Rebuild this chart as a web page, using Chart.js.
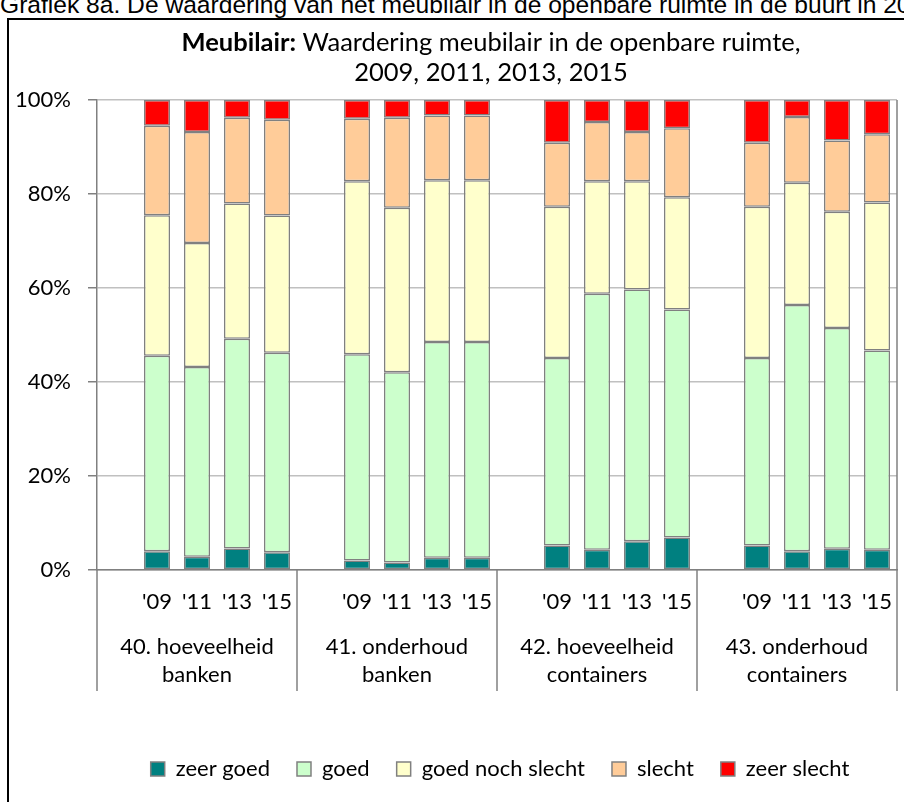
<!DOCTYPE html>
<html>
<head>
<meta charset="utf-8">
<script src="https://cdn.jsdelivr.net/npm/chart.js@4.4.1/dist/chart.umd.min.js"></script>
<style>
  html, body { margin: 0; padding: 0; background: #fff; overflow: hidden; }
  #page { position: relative; width: 904px; height: 802px; overflow: hidden; }
  #caption { position: absolute; left: 0; top: -8px; font: 24.6px/26px "Liberation Sans", Arial, sans-serif; white-space: nowrap; color: #000; }
  #frame { position: absolute; left: 7px; top: 18px; width: 1000px; height: 800px; border-left: 2px solid #000; border-top: 2px solid #000; }
  #chartBox { position: absolute; left: 0; top: 0; width: 1000px; height: 802px; }
</style>
</head>
<body>
<div id="page">
  <div id="caption">Grafiek 8a. De waardering van het meubilair in de openbare ruimte in de buurt in 2009, 2011, 2013 en 2015</div>
  <div id="frame"></div>
  <div id="chartBox"><canvas id="meubilairChart" width="1000" height="802"></canvas></div>
</div>
<script>
// Meubilair: waardering per onderwerp, 2009-2015 (100% gestapeld)

const groups = [
    ['40. hoeveelheid', 'banken'],
    ['41. onderhoud', 'banken'],
    ['42. hoeveelheid', 'containers'],
    ['43. onderhoud', 'containers']
];
const years = ["'09", "'11", "'13", "'15"];
const yTicks = [0, 20, 40, 60, 80, 100];

// values per group, in order '09 '11 '13 '15
const zeerGoed   = [4.0, 2.8, 4.6, 3.8,   2.0, 1.6, 2.6, 2.6,   5.2, 4.3, 6.1, 6.9,   5.2, 4.0, 4.5, 4.3];
const goed       = [41.6, 40.4, 44.6, 42.4,   43.9, 40.5, 45.9, 45.9,   39.9, 54.5, 53.6, 48.5,   39.9, 52.4, 47.0, 42.4];
const goedNoch   = [29.9, 26.4, 28.8, 29.2,   36.8, 35.0, 34.4, 34.4,   32.2, 23.9, 23.0, 23.9,   32.2, 26.0, 24.7, 31.5];
const slecht     = [19.0, 23.6, 18.2, 20.4,   13.3, 19.1, 13.8, 13.8,   13.6, 12.6, 10.5, 14.7,   13.6, 14.0, 15.2, 14.5];
const zeerSlecht = [5.5, 6.8, 3.8, 4.2,   4.0, 3.8, 3.3, 3.3,   9.1, 4.7, 6.8, 6.0,   9.1, 3.6, 8.6, 7.3];

const seriesNames = ['zeer goed', 'goed', 'goed noch slecht', 'slecht', 'zeer slecht'];
const seriesValues = [zeerGoed, goed, goedNoch, slecht, zeerSlecht];
const seriesColors = ['#008080', '#CCFFCC', '#FFFFCC', '#FFCC99', '#FF0000'];

const FONT = 'Lato, "Open Sans", sans-serif';
const slotsPerGroup = years.length + 1; // one empty slot in front of each group

// Category labels: empty slot + years for each group
const labels = groups.flatMap(() => [''].concat(years));

// Spread the values over the slots, leaving the empty slot null
function toSlots(values) {
    const out = [];
    groups.forEach((g, gi) => {
        out.push(null);
        for (let i = 0; i < years.length; i++) {
            out.push(values[gi * years.length + i]);
        }
    });
    return out;
}

// Title with bold "Meubilair:" in front
const mixedTitle = {
    id: 'mixedTitle',
    afterDraw(chart) {
        const ctx = chart.ctx;
        const cx = chart.width / 2 - 9;
        ctx.save();
        ctx.fillStyle = '#000';
        ctx.textBaseline = 'middle';
        const bold = 'Meubilair:';
        const rest = ' Waardering meubilair in de openbare ruimte,';
        ctx.font = 'bold 25.5px ' + FONT;
        const wBold = ctx.measureText(bold).width;
        ctx.font = '25.5px ' + FONT;
        const wRest = ctx.measureText(rest).width;
        const x0 = cx - (wBold + wRest) / 2;
        ctx.textAlign = 'left';
        ctx.font = 'bold 25.5px ' + FONT;
        ctx.fillText(bold, x0, 43);
        ctx.font = '25.5px ' + FONT;
        ctx.fillText(rest, x0 + wBold, 43);
        ctx.textAlign = 'center';
        ctx.fillText('2009, 2011, 2013, 2015', cx, 73);
        ctx.restore();
    }
};

// Group dividers and group names under the year labels
const groupAxis = {
    id: 'groupAxis',
    afterDraw(chart) {
        const ctx = chart.ctx;
        const xs = chart.scales.x;
        const area = chart.chartArea;
        ctx.save();
        ctx.strokeStyle = '#808080';
        ctx.lineWidth = 1.5;
        // right edge of plot area
        ctx.beginPath();
        ctx.moveTo(area.right, area.top);
        ctx.lineTo(area.right, area.bottom);
        ctx.stroke();
        for (let g = 0; g <= groups.length; g++) {
            const x = xs.getPixelForValue(g * slotsPerGroup - 0.5);
            ctx.beginPath();
            ctx.moveTo(x, area.bottom);
            ctx.lineTo(x, area.bottom + 121);
            ctx.stroke();
        }
        ctx.fillStyle = '#000';
        ctx.font = '22px ' + FONT;
        ctx.textAlign = 'center';
        ctx.textBaseline = 'middle';
        groups.forEach((lines, g) => {
            const x = xs.getPixelForValue(g * slotsPerGroup + (slotsPerGroup - 1) / 2);
            lines.forEach((line, i) => {
                ctx.fillText(line, x, area.bottom + 77 + i * 28);
            });
        });
        ctx.restore();
    }
};

const datasets = seriesNames.map((name, i) => ({
    label: name,
    data: toSlots(seriesValues[i]),
    backgroundColor: seriesColors[i],
    borderColor: '#808080',
    borderWidth: 1.5,
    borderSkipped: false,
    barPercentage: 0.65,
    categoryPercentage: 1.0
}));

const ctx = document.getElementById('meubilairChart').getContext('2d');
const chart = new Chart(ctx, {
    type: 'bar',
    data: { labels: labels, datasets: datasets },
    options: {
        responsive: false,
        animation: false,
        layout: { padding: { top: 100, left: 0, right: 0, bottom: 12 } },
        plugins: {
            title: { display: false },
            tooltip: { enabled: false },
            legend: {
                position: 'bottom',
                labels: {
                    boxWidth: 14,
                    boxHeight: 14,
                    padding: 27,
                    color: '#000',
                    font: { family: FONT, size: 22 }
                }
            }
        },
        scales: {
            x: {
                stacked: true,
                grid: { display: false, drawTicks: false },
                border: { display: true, color: '#808080', width: 1.5 },
                ticks: {
                    color: '#000',
                    font: { family: FONT, size: 22 },
                    padding: 19,
                    autoSkip: false,
                    maxRotation: 0
                },
                afterFit(scale) { scale.height = 161; }
            },
            y: {
                stacked: true,
                min: 0,
                max: 100,
                afterBuildTicks(scale) { scale.ticks = yTicks.map(v => ({ value: v })); },
                grid: { color: '#C0C0C0', lineWidth: 1.5, tickLength: 9, tickColor: '#808080' },
                border: { display: true, color: '#808080', width: 1.5 },
                ticks: {
                    color: '#000',
                    font: { family: FONT, size: 22 },
                    padding: 17,
                    callback: v => v + '%'
                },
                afterFit(scale) { scale.width = 97; }
            },
            // empty space to the right of the plot, the chart frame runs past the window
            yRight: {
                position: 'right',
                display: true,
                grid: { display: false, drawTicks: false },
                border: { display: false },
                ticks: { display: false },
                afterFit(scale) { scale.width = 103; }
            }
        }
    },
    plugins: [mixedTitle, groupAxis]
});
</script>
</body>
</html>
